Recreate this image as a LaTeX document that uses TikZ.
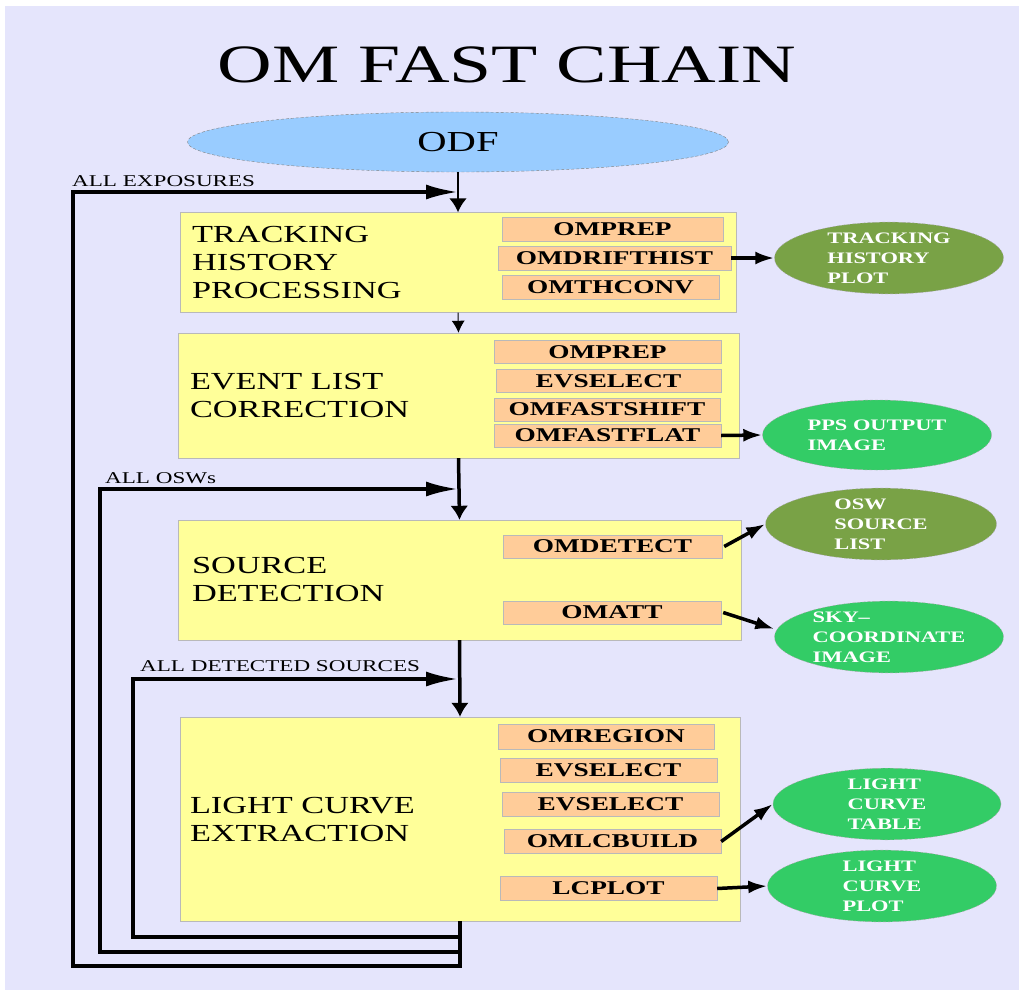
\documentclass[tikz,border=0pt]{standalone}
\usepackage{fontspec}
\setmainfont{Liberation Serif}[FakeStretch=1.4]
\usetikzlibrary{shapes.geometric, arrows.meta, positioning}

\definecolor{bglav}{RGB}{229,229,252}
\definecolor{odfblue}{RGB}{153,204,255}
\definecolor{stageyellow}{RGB}{255,255,153}
\definecolor{taskorange}{RGB}{255,204,153}
\definecolor{olivegreen}{RGB}{121,162,70}
\definecolor{brightgreen}{RGB}{51,204,102}

\begin{document}
\begin{tikzpicture}[x=1pt, y=-1pt,
  stage/.style={draw=gray!55, fill=stageyellow, inner sep=0pt},
  stagelabel/.style={align=left, inner sep=0pt, font=\fontsize{24.5}{28}\selectfont},
  task/.style={draw=gray!55, fill=taskorange, inner sep=0pt, minimum height=24pt,
    font=\fontsize{19.5}{20}\selectfont\bfseries},
  result/.style={ellipse, draw=gray!70, densely dashed, thin, text=white, align=left,
    inner sep=0pt, minimum width=229pt, minimum height=69pt,
    font=\fontsize{16}{20}\selectfont\bfseries},
  flow/.style={-{Latex[length=14pt,width=18pt]}, line width=3.5pt},
  feedback/.style={-{Latex[length=32pt,width=15pt]}, line width=3.5pt},
  outarrow/.style={-{Latex[length=19pt,width=13pt]}, line width=3.5pt},
  feedlabel/.style={anchor=base west, inner sep=0pt, font=\fontsize{16.5}{18}\selectfont}]

\useasboundingbox (0,0) rectangle (1023,993);
\fill[bglav] (5,6) rectangle (1019,990);

\node[font=\fontsize{54}{60}\selectfont] (title) at (507,65) {OM FAST CHAIN};
\node[ellipse, draw=gray, densely dashed, thin, fill=odfblue, inner sep=0pt,
  minimum width=541pt, minimum height=60pt, font=\fontsize{29}{32}\selectfont] (odf) at (458,142) {ODF};

\node[stage, minimum width=556pt, minimum height=100pt] (track) at (458,262.5) {};
\node[stagelabel, right=12pt of track.west] (tracklbl) {TRACKING\\HISTORY\\PROCESSING};
\node[task, minimum width=221pt] (prep1) at (612.5,229.5) {OMPREP};
\node[task, minimum width=233pt] (drift) at (614.5,258) {OMDRIFTHIST};
\node[task, minimum width=217pt] (thconv) at (610.5,287) {OMTHCONV};

\node[stage, minimum width=561pt, minimum height=125pt] (evcor) at (458.5,395.5) {};
\node[stagelabel, right=12pt of evcor.west] (evcorlbl) {EVENT LIST\\CORRECTION};
\node[task, minimum width=227pt, minimum height=23pt] (prep2) at (607.5,352) {OMPREP};
\node[task, minimum width=225pt, minimum height=23pt] (evsel1) at (608.5,381) {EVSELECT};
\node[task, minimum width=226pt, minimum height=23pt] (fshift) at (607,409.5) {OMFASTSHIFT};
\node[task, minimum width=227pt, minimum height=23pt] (fflat) at (607.5,435.5) {OMFASTFLAT};

\node[stage, minimum width=563pt, minimum height=120pt] (srcdet) at (459.5,580) {};
\node[stagelabel, right=14pt of srcdet.west] (srcdetlbl) {SOURCE\\DETECTION};
\node[task, minimum width=219pt, minimum height=23pt] (detect) at (612.5,546.5) {OMDETECT};
\node[task, minimum width=218pt, minimum height=23pt] (omatt) at (612,612.5) {OMATT};

\node[stage, minimum width=560pt, minimum height=204pt] (lcx) at (460,819) {};
\node[stagelabel, right=10pt of lcx.west] (lcxlbl) {LIGHT CURVE\\EXTRACTION};
\node[task, minimum width=216pt, minimum height=25pt] (region) at (606,736.5) {OMREGION};
\node[task, minimum width=217pt] (evsel2) at (608.5,770) {EVSELECT};
\node[task, minimum width=217pt] (evsel3) at (610.5,804.5) {EVSELECT};
\node[task, minimum width=217pt] (lcbuild) at (612.5,841.5) {OMLCBUILD};
\node[task, minimum width=217pt] (lcplt) at (608.5,888.5) {LCPLOT};

\node[result, fill=olivegreen, minimum height=70pt] (trackplot) at (889,258) {TRACKING\\HISTORY\\PLOT};
\node[result, fill=brightgreen, minimum height=70pt] (ppsimg) at (877,435) {PPS OUTPUT\\IMAGE};
\node[result, fill=olivegreen, minimum width=231pt, minimum height=68pt] (oswlist) at (881,524) {OSW\\SOURCE\\LIST};
\node[result, fill=brightgreen] (skyimg) at (889,637) {SKY--\\COORDINATE\\IMAGE};
\node[result, fill=brightgreen, minimum width=228pt, minimum height=68pt] (lctable) at (887,804) {LIGHT\\CURVE\\TABLE};
\node[result, fill=brightgreen, minimum height=68pt] (lcplot) at (882,886) {LIGHT\\CURVE\\PLOT};

\draw[flow, line width=2.5pt] (odf.south) -- (track.north);
\draw[-{Latex[length=12pt,width=13pt]}, line width=1pt] (track.south) -- (evcor.north);
\draw[flow] (evcor.south) -- (srcdet.north);
\draw[flow] (srcdet.south) -- (lcx.north);

\draw[outarrow] (drift.east) -- (trackplot.west);
\draw[outarrow] (fflat.east) -- (ppsimg.west);
\draw[outarrow] ([xshift=2pt]detect.east) -- (oswlist.west);
\draw[outarrow] ([xshift=2pt]omatt.east) -- ([yshift=8pt]skyimg.west);
\draw[outarrow] (lcbuild.east) -- (lctable.west);
\draw[outarrow] (lcplt.east) -- (lcplot.west);

\coordinate (exp-turn) at (73,966);
\coordinate (osw-turn) at (100,952);
\coordinate (src-turn) at (133,937);
\coordinate (exp-in) at (458,192);
\coordinate (osw-in) at (458,489);
\coordinate (src-in) at (458,679);

\draw[feedback] (lcx.south) |- (exp-turn) |- (exp-in);
\draw[feedback] (lcx.south) |- (osw-turn) |- (osw-in);
\draw[feedback] (lcx.south) |- (src-turn) |- (src-in);

\node[feedlabel] (explbl) at (72,186) {ALL EXPOSURES};
\node[feedlabel] (oswlbl) at (105,483) {ALL OSWs};
\node[feedlabel] (srclbl) at (140,671) {ALL DETECTED SOURCES};
\end{tikzpicture}
\end{document}
